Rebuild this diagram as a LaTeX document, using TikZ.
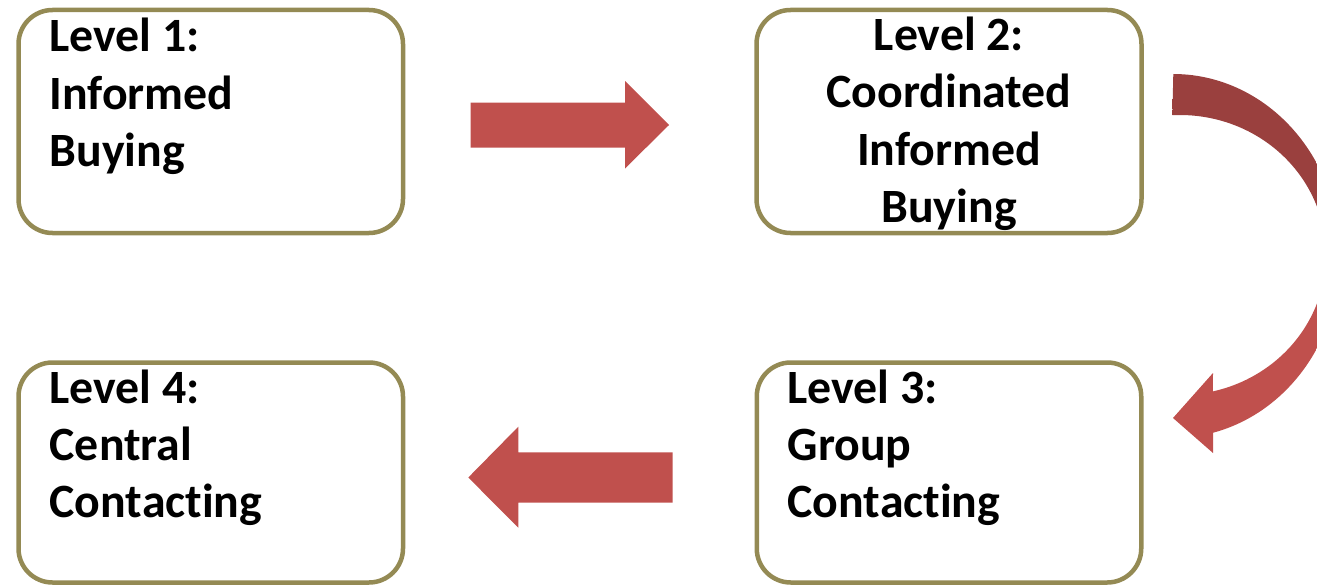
\documentclass[tikz,border=0pt]{standalone}
\usepackage{fontspec}
\setmainfont{Carlito}[Ligatures={NoCommon}]
\definecolor{boxline}{HTML}{948A54}
\definecolor{arrowred}{HTML}{C0504D}
\definecolor{arrowdark}{HTML}{9A403E}
\pgfdeclareverticalshading{arcshade}{100bp}{color(0bp)=(arrowred); color(25bp)=(arrowred); color(45bp)=(arrowred); color(55bp)=(arrowdark); color(75bp)=(arrowdark); color(100bp)=(arrowdark)}
\begin{document}
\begin{tikzpicture}[x=1pt,y=-1pt,
  lvlbox/.style={draw=boxline, line width=4.5pt, rounded corners=34pt, fill=white, inner sep=0pt},
  lvltext/.style={inner sep=0pt, font=\fontsize{47.8}{57.3}\selectfont\bfseries},
  blockarrow/.style={fill=arrowred}]
\useasboundingbox (0,0) rectangle (1317,586);
\clip (0,0) rectangle (1317,586);
% boxes
\node[lvlbox, minimum width=384.5pt, minimum height=223pt] (b1) at (210.75,121.5) {};
\node[lvlbox, minimum width=385pt, minimum height=223pt] (b2) at (949,121.5) {};
\node[lvlbox, minimum width=384.5pt, minimum height=220pt] (b3) at (949,472.5) {};
\node[lvlbox, minimum width=384.5pt, minimum height=220pt] (b4) at (210.75,472.5) {};
% texts
\node[lvltext, anchor=base west] (t1) at (49.5,51.7) {\begin{tabular}[t]{@{}l@{}}Level 1:\\Informed\\Buying\end{tabular}};
\node[lvltext, anchor=base] (t2) at (949,50.7) {\begin{tabular}[t]{@{}c@{}}Level 2:\\Coordinated\\Informed\\Buying\end{tabular}};
\node[lvltext, anchor=base west] (t3) at (787.5,403.3) {\begin{tabular}[t]{@{}l@{}}Level 3:\\Group\\Contacting\end{tabular}};
\node[lvltext, anchor=base west] (t4) at (49.5,403.3) {\begin{tabular}[t]{@{}l@{}}Level 4:\\Central\\Contacting\end{tabular}};
% straight block arrows
\fill[blockarrow] (470.5,102.5) -- (625,102.5) -- (625,81) -- (669,125) -- (625,168.5) -- (625,147.5) -- (470.5,147.5) -- cycle;
\fill[blockarrow] (672.5,452.3) -- (518.3,452.3) -- (518.3,426.7) -- (468.3,477.5) -- (518.3,527.7) -- (518.3,502.7) -- (672.5,502.7) -- cycle;
% curved arrow
\shade[shading=arcshade]
  plot[domain=-90:76.2, samples=100] ({1173.3+166.7*cos(\x)},{256+182*sin(\x)})
  -- (1213,453) -- (1173,418) -- (1213,373)
  -- plot[domain=77:-93, samples=100] ({1180+146*cos(\x)},{255+140*sin(\x)})
  -- cycle;
\end{tikzpicture}
\end{document}
